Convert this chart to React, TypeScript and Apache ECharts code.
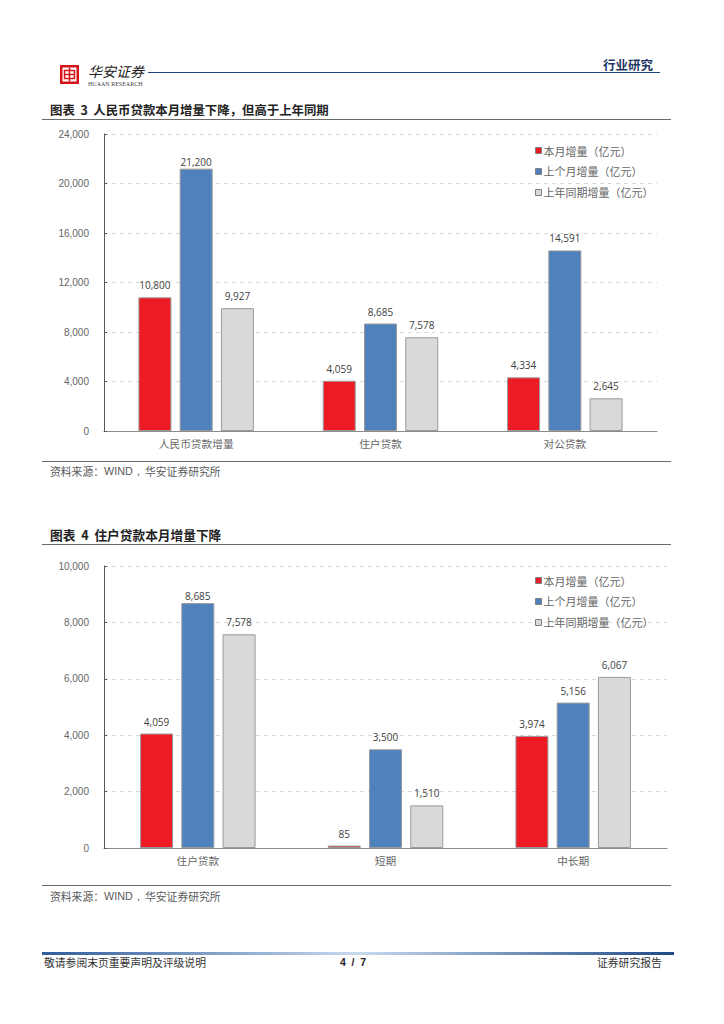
import React, { useEffect, useRef } from "react";
import * as echarts from "echarts";

const categoriesA = ["人民币贷款增量", "住户贷款", "对公贷款"];
const currentA = [10800, 4059, 4334];
const previousA = [21200, 8685, 14591];
const lastYearA = [9927, 7578, 2645];

const categoriesB = ["住户贷款", "短期", "中长期"];
const currentB = [4059, 85, 3974];
const previousB = [8685, 3500, 5156];
const lastYearB = [7578, 1510, 6067];

const seriesNames = ["本月增量（亿元）", "上个月增量（亿元）", "上年同期增量（亿元）"];
const seriesColors = ["#ED1C24", "#4F81BD", "#D9D9D9"];

const titleA = "图表  3  人民币贷款本月增量下降，但高于上年同期";
const titleB = "图表  4  住户贷款本月增量下降";
const sourceCn = "资料来源：";
const sourceLatin = "WIND，";
const sourceOrg = "华安证券研究所";

const CJK = '"Noto Sans CJK SC", sans-serif';
const LAT = '"Liberation Sans", sans-serif';

const fmt = (v: number) => v.toLocaleString("en-US");

function bars(values: number[][], axisIndex: number, tightValue: number) {
  return values.map((data, i) => ({
    type: "bar",
    name: seriesNames[i],
    data: data.map((value) =>
      value === tightValue ? { value, label: { distance: 2 } } : { value }
    ),
    xAxisIndex: axisIndex,
    yAxisIndex: axisIndex,
    barWidth: 33,
    barGap: "25%",
    itemStyle: { color: seriesColors[i], borderColor: "#9a9a9a", borderWidth: 1 },
    label: {
      show: true,
      position: "top",
      distance: 7,
      color: "#404040",
      fontFamily: '"Open Sans", sans-serif',
      fontSize: 10,
      formatter: (p: any) => fmt(p.value),
    },
  }));
}

function xAxis(data: string[], gridIndex: number) {
  return {
    type: "category",
    gridIndex,
    data,
    axisTick: { show: false },
    axisLine: { lineStyle: { color: "#8c8c8c", width: 1 } },
    axisLabel: { color: "#666666", fontFamily: CJK, fontSize: 10.7, margin: 7 },
  };
}

function yAxis(max: number, interval: number, gridIndex: number) {
  return {
    type: "value",
    gridIndex,
    min: 0,
    max,
    interval,
    axisLine: { show: true, lineStyle: { color: "#595959", width: 1 } },
    axisTick: { show: true, inside: true, length: 3, lineStyle: { color: "#595959" } },
    splitLine: { lineStyle: { color: "#d9d9d9", type: [4, 4], width: 1 } },
    axisLabel: {
      color: "#666666",
      fontFamily: LAT,
      fontSize: 10,
      margin: 15,
      formatter: (v: number) => fmt(v),
    },
  };
}

function legend(left: number, top: number) {
  return {
    orient: "vertical",
    left,
    top,
    itemWidth: 6,
    itemHeight: 6,
    itemGap: 10,
    icon: "rect",
    data: seriesNames,
    selectedMode: false,
    textStyle: { color: "#666666", fontFamily: CJK, fontSize: 11, padding: [0, 0, 0, -3] },
    itemStyle: { borderColor: "#7f7f7f", borderWidth: 1 },
  };
}

const rule = (x1: number, x2: number, y: number, stroke = "#6b6b6b", lineWidth = 1) => ({
  type: "line",
  shape: { x1, y1: y, x2, y2: y },
  style: { stroke, lineWidth },
  silent: true,
});

const label = (x: number, y: number, text: string, font: string, fill: string, align = "left") => ({
  type: "text",
  x,
  y,
  style: { text, font, fill, textAlign: align, textVerticalAlign: "middle" },
  silent: true,
});

const source = (y: number) => [
  label(50, y, sourceCn, `10.8px ${CJK}`, "#595959"),
  label(104, y, sourceLatin, `10.8px ${LAT}`, "#595959"),
  label(145, y, sourceOrg, `10.8px ${CJK}`, "#595959"),
];

const pageGraphics = [
  // logo
  { type: "rect", shape: { x: 60, y: 65, width: 19, height: 19 }, style: { fill: "#D7141A" }, silent: true },
  { type: "rect", shape: { x: 62.5, y: 67.5, width: 14, height: 14 }, style: { fill: "#fff" }, silent: true },
  { type: "rect", shape: { x: 64.5, y: 70.5, width: 10, height: 8 }, style: { fill: "none", stroke: "#D7141A", lineWidth: 1.5 }, silent: true },
  { type: "line", shape: { x1: 69.5, y1: 67.5, x2: 69.5, y2: 81.5 }, style: { stroke: "#D7141A", lineWidth: 1.5 }, silent: true },
  rule(64.5, 74.5, 74.5, "#D7141A", 1.5),
  label(88, 71, "华安证券", `italic 14px ${CJK}`, "#222222"),
  label(88, 83.5, "HUAAN RESEARCH", `6px "Liberation Serif", serif`, "#444444"),
  rule(148, 660, 72.5, "#1F3F7F", 1.2),
  label(603, 64, "行业研究", `bold 12.5px ${CJK}`, "#1F3864"),
  // chart A frame
  label(50, 110, titleA, `bold 12.4px ${CJK}`, "#222222"),
  rule(42, 671, 119.5),
  rule(42, 671, 461.5),
  ...source(471),
  // chart B frame
  label(50, 534, titleB, `bold 12.7px ${CJK}`, "#222222"),
  rule(42, 671, 544.5),
  rule(42, 671, 885.5),
  ...source(896),
  // footer
  {
    type: "rect",
    shape: { x: 42, y: 952, width: 632, height: 3 },
    style: {
      fill: new echarts.graphic.LinearGradient(0, 0, 1, 0, [
        { offset: 0, color: "#2F5C9A" },
        { offset: 0.5, color: "#C9D9EE" },
        { offset: 1, color: "#1F4A85" },
      ]),
    },
    silent: true,
  },
  label(44, 962, "敬请参阅末页重要声明及评级说明", `10.8px ${CJK}`, "#333333"),
  label(353, 962, "4  /  7", `bold 10.5px ${LAT}`, "#222222", "center"),
  label(597, 962, "证券研究报告", `10.8px ${CJK}`, "#333333"),
];

export default function App() {
  const ref = useRef<HTMLDivElement>(null);
  useEffect(() => {
    const chart = echarts.init(ref.current!, undefined, { renderer: "svg" });
    chart.setOption({
      animation: false,
      backgroundColor: "#ffffff",
      grid: [
        { left: 104, right: 67, top: 134, height: 297 },
        { left: 104, right: 57, top: 566, height: 282 },
      ],
      xAxis: [xAxis(categoriesA, 0), xAxis(categoriesB, 1)],
      yAxis: [yAxis(24000, 4000, 0), yAxis(10000, 2000, 1)],
      legend: [legend(530, 140), legend(530, 570)],
      series: [
        ...bars([currentA, previousA, lastYearA], 0, 21200),
        ...bars([currentB, previousB, lastYearB], 1, 8685),
      ],
      graphic: pageGraphics,
    });
    return () => chart.dispose();
  }, []);
  return (
    <div
      ref={ref}
      style={{ position: "absolute", left: 0, top: 0, width: 724, height: 1024 }}
    />
  );
}
